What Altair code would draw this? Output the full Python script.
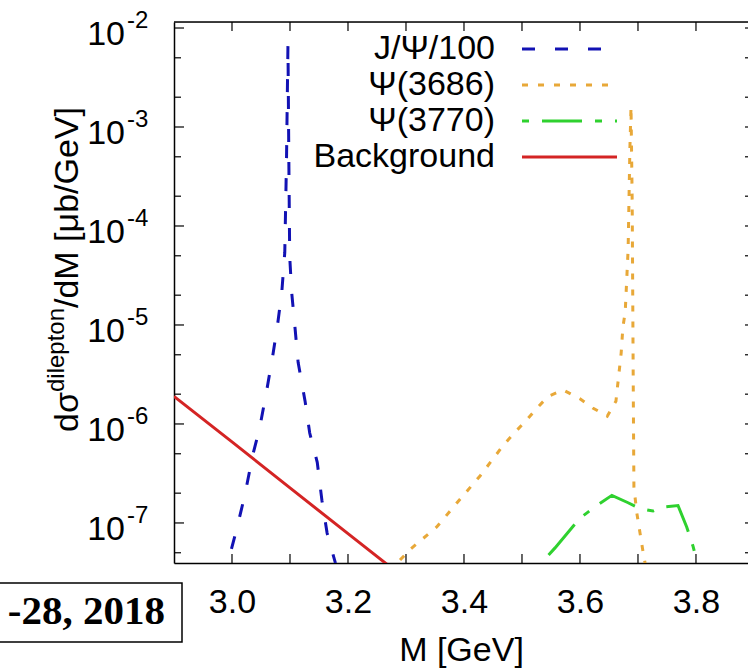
import altair as alt
import pandas as pd

W, H = 574, 541
FONT = "Liberation Sans"

# ---------------- data ----------------
jpsi_m = [2.985, 2.993, 3.009, 3.022, 3.036, 3.048, 3.060, 3.071, 3.079, 3.086, 3.091, 3.094, 3.0965,
          3.098, 3.0995, 3.103, 3.109, 3.114, 3.126, 3.134, 3.147, 3.155, 3.164, 3.178, 3.185]
jpsi_v = [2.6e-8, 4.0e-8, 9.1e-8, 1.9e-7, 4.9e-7, 9.3e-7, 2.2e-6, 5.2e-6, 1.05e-5, 2.2e-5, 5.4e-5, 4.7e-4, 6.8e-3,
          4.7e-4, 4.9e-5, 2.1e-5, 8.9e-6, 4.2e-6, 1.7e-6, 8.1e-7, 4.1e-7, 1.7e-7, 7.9e-8, 4.0e-8, 3.0e-8]

psi3686_m = [3.280, 3.286, 3.307, 3.353, 3.388, 3.428, 3.466, 3.484, 3.505, 3.526, 3.545, 3.571, 3.600, 3.622,
             3.647, 3.662, 3.666, 3.671, 3.674, 3.678, 3.683, 3.686, 3.688, 3.690, 3.691, 3.692, 3.693, 3.698,
             3.709, 3.712, 3.715]
psi3686_v = [3.0e-8, 4.0e-8, 5.4e-8, 9.1e-8, 1.6e-7, 3.0e-7, 5.9e-7, 7.8e-7, 1.05e-6, 1.45e-6, 1.9e-6, 2.2e-6,
             1.8e-6, 1.45e-6, 1.2e-6, 1.7e-6, 2.8e-6, 5.2e-6, 9.5e-6, 1.35e-5, 5.8e-5, 5.9e-4, 1.6e-3, 1.8e-4,
             1.8e-5, 1.7e-6, 2.3e-7, 1.26e-7, 5.0e-8, 4.0e-8, 3.0e-8]

psi3770_m = [3.530, 3.534, 3.557, 3.600, 3.629, 3.655, 3.683, 3.703, 3.726, 3.743, 3.769, 3.784, 3.795, 3.802, 3.806]
psi3770_v = [3.2e-8, 4.0e-8, 5.6e-8, 1.12e-7, 1.5e-7, 1.9e-7, 1.6e-7, 1.4e-7, 1.32e-7, 1.45e-7, 1.5e-7, 9.1e-8,
             5.8e-8, 4.0e-8, 3.0e-8]

bg_m = [2.9, 3.0, 3.1, 3.2, 3.3]
bg_v = [1.9e-6, 6.6e-7, 2.26e-7, 7.8e-8, 2.7e-8]

legend_names = ["J/\u03a8/100", "\u03a8(3686)", "\u03a8(3770)", "Background"]
x_labels = [3.0, 3.2, 3.4, 3.6, 3.8]
x_ticks = [3.0, 3.1, 3.2, 3.3, 3.4, 3.5, 3.6, 3.7, 3.8]
y_major = [1e-2, 1e-3, 1e-4, 1e-5, 1e-6, 1e-7]
y_exp = ["-2", "-3", "-4", "-5", "-6", "-7"]
y_minor = [5e-3, 2e-3, 5e-4, 2e-4, 5e-5, 2e-5, 5e-6, 2e-6, 5e-7, 2e-7, 5e-8]

# ---------------- styles ----------------
BLUE, ORANGE, GREEN, RED = "#1212b4", "#e8a838", "#2fd12f", "#d42424"
DASH_BLUE = [13, 20]
DASH_ORANGE = [6, 10]
DASH_GREEN = [7, 13, 40, 13]

xscale = alt.Scale(domain=[2.9, 3.8897], nice=False, zero=False)
yscale = alt.Scale(type="log", domain=[3.94e-8, 1.15e-2], nice=False)

XAX = alt.Axis(values=x_labels, format=".1f", labelFontSize=34, labelFont=FONT, labelColor="black",
               labelPadding=22, ticks=False, tickSize=0, grid=False, domain=True, domainColor="black",
               domainWidth=1.5, title="M [GeV]", titleFont=FONT, titleFontSize=34,
               titleFontWeight="normal", titleColor="black", titlePadding=14)
YAX = alt.Axis(labels=False, ticks=False, tickSize=0, grid=False, domain=True, domainColor="black",
               domainWidth=1.5, title=None)

X = lambda: alt.X("M:Q", scale=xscale, axis=XAX)
Y = lambda: alt.Y("v:Q", scale=yscale, axis=YAX)


def curve(m, v, color, dash=None):
    df = pd.DataFrame({"M": m, "v": v, "i": list(range(len(m)))})
    kw = dict(color=color, strokeWidth=3, clip=True)
    if dash:
        kw["strokeDash"] = dash
    return alt.Chart(df).mark_line(**kw).encode(x=X(), y=Y(), order="i:Q")


layers = [
    curve(bg_m, bg_v, RED),
    curve(jpsi_m, jpsi_v, BLUE, DASH_BLUE),
    curve(psi3686_m, psi3686_v, ORANGE, DASH_ORANGE),
    curve(psi3770_m, psi3770_v, GREEN, DASH_GREEN),
]

# ---------------- frame and ticks ----------------
one = pd.DataFrame({"a": [0]})
layers.append(alt.Chart(one).mark_rule(color="black", strokeWidth=1.5).encode(
    x=alt.value(0), x2=alt.value(W), y=alt.value(0)))

xt = pd.DataFrame({"M": x_ticks})
for y0, y1 in [(H - 9, H), (0, 9)]:
    layers.append(alt.Chart(xt).mark_rule(color="black", strokeWidth=1.2).encode(
        x=X(), y=alt.value(y0), y2=alt.value(y1)))

ym = pd.DataFrame({"v": y_major, "e": y_exp})
yn = pd.DataFrame({"v": y_minor})
for data, ln in [(ym, 10), (yn, 7)]:
    layers.append(alt.Chart(data).mark_rule(color="black", strokeWidth=1.2).encode(
        y=Y(), x=alt.value(0), x2=alt.value(ln)))
    layers.append(alt.Chart(data).mark_rule(color="black", strokeWidth=1.2).encode(
        y=Y(), x=alt.value(W - 3), x2=alt.value(W)))

# y tick labels 10^n
layers.append(alt.Chart(ym).mark_text(text="10", align="right", baseline="alphabetic", fontSize=34,
                                      font=FONT, color="black", dy=17).encode(
    y=Y(), x=alt.value(-49)))
layers.append(alt.Chart(ym).mark_text(align="left", baseline="alphabetic", fontSize=24,
                                      font=FONT, color="black", dy=0).encode(
    y=Y(), x=alt.value(-47), text="e:N"))

# y title: d sigma ^dilepton / dM [mub/GeV]
for txt, xx, yy, fs in [("d\u03c3", -96, 410, 34), ("dilepton", -110, 370, 24), ("/dM [\u03bcb/GeV]", -96, 286, 34)]:
    layers.append(alt.Chart(pd.DataFrame({"t": [txt]})).mark_text(
        angle=270, align="left", baseline="alphabetic", fontSize=fs, font=FONT, color="black").encode(
        x=alt.value(xx), y=alt.value(yy), text="t:N"))

# ---------------- legend ----------------
leg_colors = [BLUE, ORANGE, GREEN, RED]
leg_dash = [DASH_BLUE, DASH_ORANGE, DASH_GREEN, None]
leg_y = [27, 63, 99, 135]
for name, col, dash, yy in zip(legend_names, leg_colors, leg_dash, leg_y):
    layers.append(alt.Chart(pd.DataFrame({"t": [name]})).mark_text(
        align="right", baseline="middle", fontSize=34, font=FONT, color="black").encode(
        x=alt.value(321), y=alt.value(yy), text="t:N"))
    kw = dict(color=col, strokeWidth=3)
    if dash:
        kw["strokeDash"] = dash
    layers.append(alt.Chart(one).mark_rule(**kw).encode(
        x=alt.value(348), x2=alt.value(443), y=alt.value(yy)))

# ---------------- date box overlay ----------------
layers.append(alt.Chart(one).mark_rect(fill="white", stroke="black", strokeWidth=1.5).encode(
    x=alt.value(-190), x2=alt.value(8), y=alt.value(561), y2=alt.value(620)))
layers.append(alt.Chart(pd.DataFrame({"t": ["-28, 2018"]})).mark_text(
    align="right", baseline="middle", fontSize=41, font="Liberation Serif", fontWeight="bold",
    color="black").encode(x=alt.value(-9), y=alt.value(590), text="t:N"))

chart = alt.layer(*layers).properties(
    width=W, height=H,
    padding={"left": 174, "top": 22, "right": 0, "bottom": 109},
    autosize=alt.AutoSizeParams(type="none"),
).configure_view(stroke=None).configure(background="white")

chart.save("out.html", embed_options={"renderer": "svg", "actions": False})
